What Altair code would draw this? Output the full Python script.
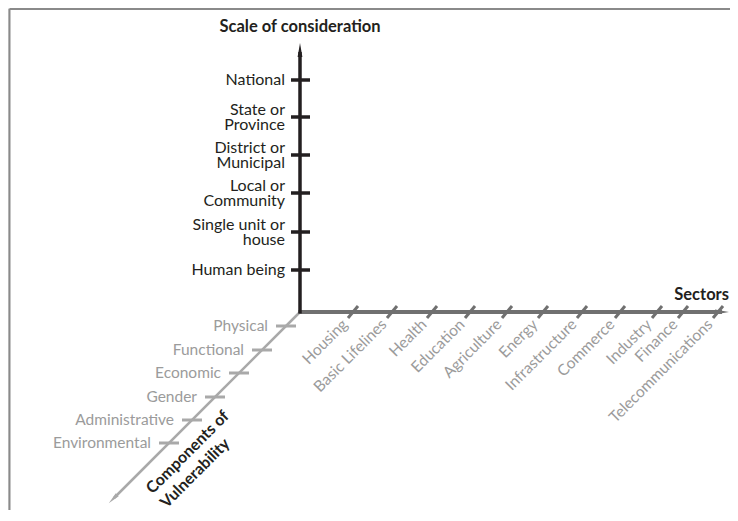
import altair as alt
import pandas as pd

# ---------------- data (categories + offsets) -------------
scale_levels = ["Human being", "Single unit or\nhouse", "Local or\nCommunity",
                "District or\nMunicipal", "State or\nProvince", "National"]
scale_offsets = [42, 80, 119, 157, 195, 232]          # distance above origin

sectors = ["Housing", "Basic Lifelines", "Health", "Education", "Agriculture",
           "Energy", "Infrastructure", "Commerce", "Industry", "Finance",
           "Telecommunications"]
sector_offsets = [53, 92, 132, 170, 207, 243, 282, 320, 357, 383, 418]  # right of origin

components = ["Physical", "Functional", "Economic", "Gender",
              "Administrative", "Environmental"]
component_offsets = [14, 38, 61, 85, 108, 131]        # drop along the 45° axis

# ---------------- layout -------------------------------------------------------
W, H = 722, 502
OX, OY = 300, 312          # origin of the three axes (page coordinates)
DARK = "#231f20"
MID = "#707070"
LIGHT = "#a9a9a9"
LABEL_GRAY = "#9b9b9b"
FONT = "Lato"

xs = alt.Scale(domain=[8, 8 + W], nice=False, zero=False)
ys = alt.Scale(domain=[8, 8 + H], nice=False, zero=False, reverse=True)
X = lambda f: alt.X(f, type="quantitative", scale=xs, axis=None)
Y = lambda f: alt.Y(f, type="quantitative", scale=ys, axis=None)


def seg_layer(df, color, width, cap="butt"):
    return alt.Chart(df).mark_rule(color=color, strokeWidth=width, strokeCap=cap).encode(
        x=X("x"), y=Y("y"), x2="x2", y2="y2")


# frame
frame = pd.DataFrame([
    dict(x=9.5, y=9, x2=8 + W, y2=9),
    dict(x=9.5, y=9, x2=9.5, y2=8 + H),
])

# main axes
v_axis = pd.DataFrame([dict(x=OX, y=OY + 1.5, x2=OX, y2=52)])
h_axis = pd.DataFrame([dict(x=OX - 1.5, y=OY, x2=722, y2=OY)])
diag_len = 186
d_axis = pd.DataFrame([dict(x=OX, y=OY, x2=OX - diag_len, y2=OY + diag_len)])

# ticks
v_ticks = pd.DataFrame([dict(x=OX - 9, x2=OX + 10, y=OY - o, y2=OY - o) for o in scale_offsets])
s_ticks = pd.DataFrame([dict(x=OX + o - 5, y=OY + 6, x2=OX + o + 5, y2=OY - 6) for o in sector_offsets])
c_ticks = pd.DataFrame([dict(x=OX - o - 10, x2=OX - o + 10, y=OY + o, y2=OY + o) for o in component_offsets])

# arrowheads
arrow_path = "M0,-1L0.34,1L-0.34,1Z"
heads = pd.DataFrame([
    dict(x=OX, y=50, a=0, s=196, c=DARK),
    dict(x=722, y=OY, a=90, s=196, c=MID),
    dict(x=OX - diag_len - 1, y=OY + diag_len + 1, a=225, s=144, c=LIGHT),
])
head_layer = alt.Chart(heads).mark_point(shape=arrow_path, filled=True, opacity=1, strokeWidth=0).encode(
    x=X("x"), y=Y("y"),
    angle=alt.Angle("a:Q", scale=None),
    size=alt.Size("s:Q", scale=None),
    color=alt.Color("c:N", scale=None),
)

# texts
scale_df = pd.DataFrame(dict(label=scale_levels,
                             x=[OX - 15] * len(scale_levels),
                             y=[OY - o - (7 if "\n" in l else 0) for l, o in zip(scale_levels, scale_offsets)]))
scale_text = alt.Chart(scale_df).mark_text(align="right", baseline="middle", font=FONT, fontSize=16,
                                           color=DARK, lineBreak="\n", lineHeight=15).encode(
    x=X("x"), y=Y("y"), text="label:N")

sector_df = pd.DataFrame(dict(label=sectors,
                              x=[OX + o - 8 for o in sector_offsets],
                              y=[OY + 10] * len(sectors)))
sector_text = alt.Chart(sector_df).mark_text(align="right", baseline="middle", angle=315, font=FONT,
                                             fontSize=15.5, color=LABEL_GRAY).encode(
    x=X("x"), y=Y("y"), text="label:N")

comp_df = pd.DataFrame(dict(label=components,
                            x=[OX - o - 18 for o in component_offsets],
                            y=[OY + o for o in component_offsets]))
comp_text = alt.Chart(comp_df).mark_text(align="right", baseline="middle", font=FONT, fontSize=15.5,
                                         color=LABEL_GRAY).encode(
    x=X("x"), y=Y("y"), text="label:N")

titles = pd.DataFrame([
    dict(t="Scale of consideration", x=OX, y=27, al="center"),
    dict(t="Sectors", x=729, y=295, al="right"),
])
title_text = alt.Chart(titles[titles.al == "center"]).mark_text(
    align="center", baseline="middle", font=FONT, fontSize=16.5, fontWeight="bold", color=DARK).encode(
    x=X("x"), y=Y("y"), text="t:N")
sect_title = alt.Chart(titles[titles.al == "right"]).mark_text(
    align="right", baseline="middle", font=FONT, fontSize=16.5, fontWeight="bold", color=DARK).encode(
    x=X("x"), y=Y("y"), text="t:N")
comp_title = alt.Chart(pd.DataFrame([dict(t="Components of\nVulnerability", x=149, y=491)])).mark_text(
    align="left", baseline="middle", angle=315, font=FONT, fontSize=16, fontWeight="bold",
    color=DARK, lineBreak="\n", lineHeight=20).encode(
    x=X("x"), y=Y("y"), text="t:N")

chart = alt.layer(
    seg_layer(frame, "#8a8a8a", 2),
    seg_layer(d_axis, LIGHT, 2.5),
    seg_layer(c_ticks, LIGHT, 3),
    seg_layer(h_axis, MID, 4),
    seg_layer(s_ticks, MID, 3),
    seg_layer(v_axis, DARK, 3.5),
    seg_layer(v_ticks, DARK, 3.5),
    head_layer,
    scale_text, sector_text, comp_text, title_text, sect_title, comp_title,
).properties(
    width=W, height=H, padding=0,
    autosize=alt.AutoSizeParams(type="none"),
).configure_view(stroke=None).configure(background="white")

chart.save("out.html", embed_options={"renderer": "svg", "actions": False})
